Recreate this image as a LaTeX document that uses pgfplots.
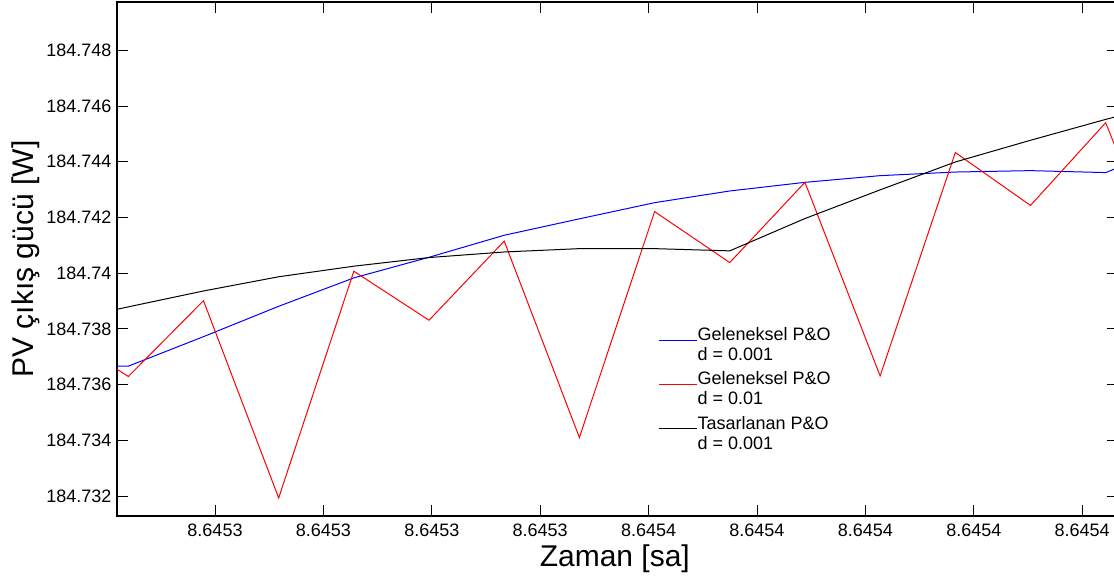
\documentclass[border=0pt]{standalone}
\usepackage{fontspec}
\setmainfont{Liberation Sans}
\usepackage{pgfplots}
\usepackage{pgfplotstable}
\pgfplotsset{compat=1.18}

% t: time above 8.6453 s, in units of 1e-5 s
% power columns: PV output above 184.730 W, in mW
\pgfplotstableread{
t       blue   red    black
-0.4934  6.66   8.03   8.20
0.2002   6.66   6.29   8.79
0.8938   7.72   9.01   9.36
1.5874   8.81   1.93   9.87
2.2809   9.83  10.07  10.25
2.9745  10.57   8.31  10.56
3.6681  11.36  11.15  10.76
4.3617  11.95   4.10  10.88
5.0553  12.53  12.21  10.88
5.7488  12.95  10.38  10.80
6.4424  13.26  13.26  11.96
7.1360  13.50   6.31  12.99
7.8296  13.63  14.33  13.99
8.5232  13.68  12.43  14.77
9.2168  13.61  15.40  15.52
9.9104  14.70   8.67  16.21
}\pvdata

\begin{document}
\begin{tikzpicture}
\begin{axis}[
  at={(0pt,0pt)}, anchor=south west,
  scale only axis, width=750.5pt, height=385.5pt,
  xmin=0.0959, xmax=9.3275, ymin=1.282, ymax=19.734,
  xtick={1,...,9},
  xticklabels={8.6453,8.6453,8.6453,8.6453,8.6454,8.6454,8.6454,8.6454,8.6454},
  ytick={2,4,...,18},
  yticklabels={184.732,184.734,184.736,184.738,184.74,184.742,184.744,184.746,184.748},
  /pgf/number format/assume math mode=true,
  tick align=inside, major tick length=8pt,
  tick style={black, line width=0.6pt},
  axis line style={line width=1pt},
  every tick label/.append style={font=\fontsize{13.5}{15}\selectfont},
  xticklabel style={inner sep=0pt, anchor=north, yshift=-6pt},
  yticklabel style={inner sep=0pt, anchor=east, xshift=-4pt},
  xlabel={Zaman [sa]},
  ylabel={PV çıkış gücü [W]},
  xlabel style={at={(axis description cs:0.4975,-0.0973)}, anchor=base,
    inner sep=0pt, font=\fontsize{22.5}{27}\selectfont},
  ylabel style={at={(axis description cs:-0.0836,0.5)}, anchor=base,
    inner sep=0pt, font=\fontsize{22.5}{27}\selectfont},
  legend cell align=left,
  legend style={at={(axis description cs:0.5415,0.3667)}, anchor=north west,
    draw=none, fill=none, inner sep=0pt, outer sep=0pt, row sep=7pt,
    font=\fontsize{13.5}{15}\selectfont,
    nodes={align=left, inner sep=0pt, yshift=-3.75pt},
    /tikz/every even column/.append style={column sep=2.6pt}},
  legend image code/.code={\draw[#1] (0pt,0pt) -- (28.3pt,0pt);},
]
\addplot[color=blue, line width=0.75pt] table[x=t, y=blue]{\pvdata};
\addlegendentry{Geleneksel P\&O\\d = 0.001}
\addplot[color=red, line width=0.75pt] table[x=t, y=red]{\pvdata};
\addlegendentry{Geleneksel P\&O\\d = 0.01}
\addplot[color=black, line width=0.75pt] table[x=t, y=black]{\pvdata};
\addlegendentry{Tasarlanan P\&O\\d = 0.001}
\end{axis}
\pgfresetboundingbox
\useasboundingbox (-87.75pt,-47.25pt) rectangle (747.75pt,387pt);
\end{tikzpicture}
\end{document}
